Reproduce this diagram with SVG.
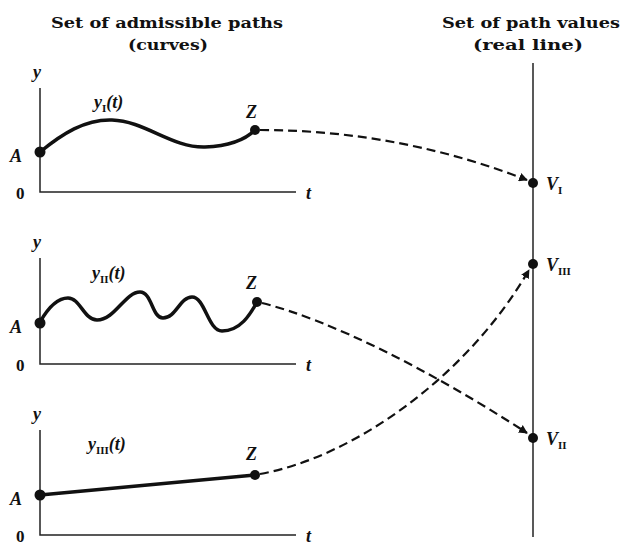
<svg xmlns="http://www.w3.org/2000/svg" width="623" height="545" viewBox="0 0 623 545">
<style>
text{font-family:"DejaVu Serif","Liberation Serif",serif;fill:#111;font-weight:bold}
.t{font-size:15px;text-anchor:middle}
.i{font-family:"Liberation Serif","DejaVu Serif",serif;font-style:italic;font-size:18px}
.s{font-style:normal;font-size:11px}
.n{font-family:"Liberation Serif",serif;font-size:17px}
.ax{stroke:#222;stroke-width:1.5;fill:none}
.cv{stroke:#111;stroke-width:3.5;fill:none;stroke-linecap:round}
.dl{stroke:#111;stroke-width:2.2;fill:none;stroke-dasharray:9,5}
.dot{fill:#111}
</style>
<defs>
<marker id="ar" viewBox="0 0 10 10" refX="9" refY="5" markerWidth="4" markerHeight="4" orient="auto" markerUnits="strokeWidth">
<path d="M0,0 L10,5 L0,10 z" fill="#111"/>
</marker>
</defs>
<g id="titles">
<text class="t" x="167" y="28" textLength="232" lengthAdjust="spacingAndGlyphs">Set of admissible paths</text>
<text class="t" x="168" y="50" textLength="80" lengthAdjust="spacingAndGlyphs">(curves)</text>
<text class="t" x="531" y="28" textLength="178" lengthAdjust="spacingAndGlyphs">Set of path values</text>
<text class="t" x="528" y="50" textLength="110" lengthAdjust="spacingAndGlyphs">(real line)</text>
</g>
<g id="realline">
<line class="ax" x1="533" y1="63" x2="533" y2="537"/>
</g>
<g id="panel1">
<polyline class="ax" points="40,88 40,192 296,192"/>
<text class="i" x="33" y="78">y</text>
<text class="n" x="16" y="199">0</text>
<text class="i" x="306" y="199">t</text>
<text class="i" x="10" y="162" font-size="20">A</text>
<text class="i" x="94" y="108">y<tspan class="s" dy="4">I</tspan><tspan dy="-4">(t)</tspan></text>
<text class="i" x="246" y="118">Z</text>
<path class="cv" d="M40,152 C62,134 85,119 112,120 C145,121 172,148 205,147 C230,146 245,140 255,130"/>
<circle class="dot" cx="40" cy="152" r="5.5"/>
<circle class="dot" cx="255" cy="130" r="5"/>
</g>
<g id="panel2">
<polyline class="ax" points="40,258 40,364 296,364"/>
<text class="i" x="33" y="248">y</text>
<text class="n" x="16" y="371">0</text>
<text class="i" x="306" y="371">t</text>
<text class="i" x="10" y="333" font-size="20">A</text>
<text class="i" x="92" y="279">y<tspan class="s" dy="4">II</tspan><tspan dy="-4">(t)</tspan></text>
<text class="i" x="246" y="289">Z</text>
<path class="cv" d="M40,322 C48,308 58,298 68,298 C80,298 84,320 97,320 C115,320 125,292 140,292 C152,292 152,318 163,318 C176,318 180,297 192,297 C205,297 208,331 222,331 C240,331 250,315 257,302"/>
<circle class="dot" cx="40" cy="323" r="5.5"/>
<circle class="dot" cx="257" cy="302" r="5"/>
</g>
<g id="panel3">
<polyline class="ax" points="40,430 40,535 296,535"/>
<text class="i" x="33" y="420">y</text>
<text class="n" x="16" y="542">0</text>
<text class="i" x="306" y="542">t</text>
<text class="i" x="10" y="505" font-size="20">A</text>
<text class="i" x="88" y="450">y<tspan class="s" dy="4">III</tspan><tspan dy="-4">(t)</tspan></text>
<text class="i" x="246" y="460">Z</text>
<path class="cv" d="M40,495 L255,475"/>
<circle class="dot" cx="40" cy="495" r="5.5"/>
<circle class="dot" cx="255" cy="475" r="5"/>
</g>
<g id="values">
<circle class="dot" cx="533" cy="183" r="5"/>
<text class="i" x="546" y="190">V<tspan class="s" dy="4">I</tspan></text>
<circle class="dot" cx="533" cy="264" r="5"/>
<text class="i" x="546" y="271">V<tspan class="s" dy="4">III</tspan></text>
<circle class="dot" cx="533" cy="438" r="5"/>
<text class="i" x="546" y="445">V<tspan class="s" dy="4">II</tspan></text>
</g>
<g id="connectors">
<path class="dl" marker-end="url(#ar)" d="M260,130 C360,130 450,150 527,180"/>
<path class="dl" marker-end="url(#ar)" d="M262,303 C330,320 430,370 527,433"/>
<path class="dl" marker-end="url(#ar)" d="M260,474 C350,458 465,380 529,270"/>
</g>
</svg>
